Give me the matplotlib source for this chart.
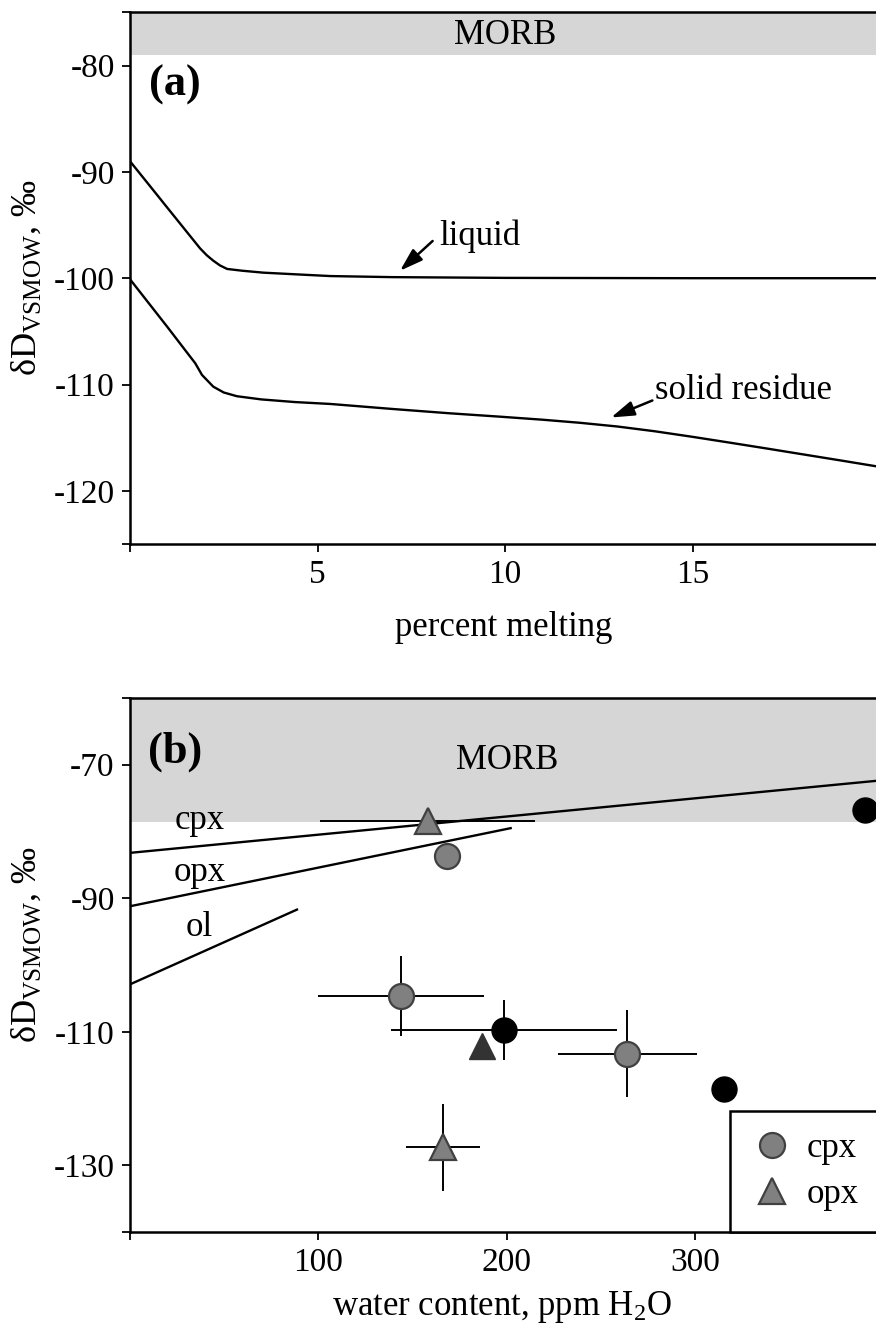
import matplotlib
matplotlib.use("Agg")
import matplotlib.pyplot as plt
from matplotlib.lines import Line2D

plt.rcParams['font.family'] = ['Liberation Serif', 'DejaVu Serif']
plt.rcParams['mathtext.fontset'] = 'custom'
plt.rcParams['mathtext.rm'] = 'Liberation Serif'
plt.rcParams['mathtext.it'] = 'Liberation Serif:italic'

# ---------------- Data: panel (a) ----------------
liquid_x = [0, 0.5, 1.0, 1.5, 1.87, 2.05, 2.22, 2.4, 2.59, 3.0, 3.56, 4.5, 5.35, 7, 10, 15, 20]
liquid_y = [-89.0, -91.19, -93.39, -95.58, -97.2, -97.85, -98.35, -98.8, -99.13, -99.3,
            -99.48, -99.65, -99.8, -99.9, -99.97, -100.0, -100.0]
solid_x = [0, 0.5, 1.0, 1.5, 1.74, 1.92, 2.22, 2.5, 2.85, 3.5, 4.4, 5.35, 7, 8.5, 9.89,
           11, 12, 13, 14, 15, 16, 17, 18, 19, 20]
solid_y = [-100.1, -102.35, -104.6, -106.9, -108.0, -109.1, -110.2, -110.75, -111.1,
           -111.4, -111.65, -111.83, -112.3, -112.7, -113.03, -113.31, -113.6, -113.95,
           -114.4, -114.92, -115.47, -116.03, -116.6, -117.17, -117.75]
morb_a = (-79, -75)

# ---------------- Data: panel (b) ----------------
cpx_x = [168, 143.8, 264]
cpx_y = [-83.6, -104.7, -113.3]
cpx_xerr = [0, 44, 37]
cpx_yerr = [0, 6, 6.5]

opx_x = [158, 166]
opx_y = [-78.5, -127.3]
opx_xerr = [57, 19.5]
opx_yerr = [0, 6.5]

blk_x = [390, 198.4, 315]
blk_y = [-76.8, -109.8, -118.6]
blk_xerr = [0, 60, 0]
blk_yerr = [0, 4.5, 0]

dtri_x = [186.7]
dtri_y = [-112.1]

# model lines (cpx, opx, ol)
line_cpx_x = [0, 400]
line_cpx_y = [-83.2, -72.3]
line_opx_x = [0, 202]
line_opx_y = [-91.2, -79.5]
line_ol_x = [0, 88.6]
line_ol_y = [-102.9, -91.7]
morb_b = (-78.6, -60)

FS = 24      # tick labels
LFS = 25     # labels / annotations
GRAY_BAND = '#d6d6d6'
MGRAY = '#808080'
EDGE = '#404040'

W, H = 876, 1329
fig = plt.figure(figsize=(W / 100, H / 100), dpi=100)

def style_axes(ax):
    for s in ax.spines.values():
        s.set_linewidth(1.8)
    ax.tick_params(direction='out', length=6, width=1.3, labelsize=FS,
                   top=False, right=False, pad=5)

# ---------------- Panel (a) ----------------
ax1 = fig.add_axes([130 / W, 1 - 544 / H, 750 / W, (544 - 12.4) / H])
ax1.set_xlim(0, 20)
ax1.set_ylim(-125, -75)
ax1.axhspan(morb_a[0], morb_a[1], color=GRAY_BAND, lw=0, zorder=0)
ax1.plot(liquid_x, liquid_y, color='black', lw=1.7)
ax1.plot(solid_x, solid_y, color='black', lw=1.7)
ax1.set_yticks([-125, -120, -110, -100, -90, -80, -75])
ax1.set_yticklabels(['', '-120', '-110', '-100', '-90', '-80', ''])
ax1.set_xticks([0, 5, 10, 15, 20])
ax1.set_xticklabels(['', '5', '10', '15', ''])
style_axes(ax1)
ax1.text(10, -77.2, 'MORB', ha='center', va='center', fontsize=LFS)
ax1.text(0.5, -81.8, '(a)', ha='left', va='center', fontsize=32, fontweight='bold')
arrow_kw = dict(arrowstyle='-|>,head_length=1.4,head_width=0.45', color='black',
                lw=1.8, shrinkA=0, shrinkB=0)
ax1.annotate('', xy=(7.2, -99.3), xytext=(8.07, -96.5), arrowprops=arrow_kw)
ax1.text(8.25, -96.1, 'liquid', ha='left', va='center', fontsize=LFS)
ax1.annotate('', xy=(12.83, -113.1), xytext=(13.93, -111.5), arrowprops=arrow_kw)
ax1.text(14.0, -110.6, 'solid residue', ha='left', va='center', fontsize=LFS)
ax1.set_xlabel('percent melting', fontsize=LFS)
ax1.xaxis.label.set_va('center')
ax1.xaxis.set_label_coords(0.498, -0.158)
ax1.set_ylabel('δD$_{\\rm VSMOW}$, ‰', fontsize=26)
ax1.yaxis.label.set_va('center')
ax1.yaxis.set_label_coords(-0.137, 0.5)

# ---------------- Panel (b) ----------------
ax2 = fig.add_axes([130 / W, 1 - 1232 / H, 750 / W, (1232 - 698) / H])
ax2.set_xlim(0, 398)
ax2.set_ylim(-140, -60)
ax2.axhspan(morb_b[0], morb_b[1], color=GRAY_BAND, lw=0, zorder=0)
ax2.plot(line_cpx_x, line_cpx_y, color='black', lw=1.7, zorder=2)
ax2.plot(line_opx_x, line_opx_y, color='black', lw=1.7, zorder=2)
ax2.plot(line_ol_x, line_ol_y, color='black', lw=1.7, zorder=2)
ax2.text(37, -78.4, 'cpx', ha='center', va='center', fontsize=LFS)
ax2.text(37, -86.2, 'opx', ha='center', va='center', fontsize=LFS)
ax2.text(37, -94.4, 'ol', ha='center', va='center', fontsize=LFS)
ax2.text(200, -69.4, 'MORB', ha='center', va='center', fontsize=LFS)
ax2.text(9.5, -68.0, '(b)', ha='left', va='center', fontsize=32, fontweight='bold')

eb_kw = dict(fmt='none', ecolor='black', elinewidth=1.4, capsize=0, zorder=3)
ax2.errorbar(cpx_x, cpx_y, xerr=cpx_xerr, yerr=cpx_yerr, **eb_kw)
ax2.errorbar(opx_x, opx_y, xerr=opx_xerr, yerr=opx_yerr, **eb_kw)
ax2.errorbar(blk_x, blk_y, xerr=blk_xerr, yerr=blk_yerr, **eb_kw)

ax2.plot(cpx_x, cpx_y, 'o', ms=18, mfc=MGRAY, mec=EDGE, mew=1.6, zorder=4)
ax2.plot(opx_x, opx_y, '^', ms=19, mfc=MGRAY, mec=EDGE, mew=1.6, zorder=4)
ax2.plot(blk_x, blk_y, 'o', ms=18, mfc='black', mec='black', mew=1.0, zorder=4)
ax2.plot(dtri_x, dtri_y, '^', ms=19, mfc='#333333', mec='#333333', mew=1.0, zorder=4)

ax2.set_yticks([-140, -130, -110, -90, -70, -60])
ax2.set_yticklabels(['', '-130', '-110', '-90', '-70', ''])
ax2.set_xticks([0, 100, 200, 300])
ax2.set_xticklabels(['', '100', '200', '300'])
style_axes(ax2)
ax2.set_xlabel('water content, ppm H$_2$O', fontsize=LFS)
ax2.xaxis.label.set_va('center')
ax2.xaxis.set_label_coords(0.496, -0.141)
ax2.set_ylabel('δD$_{\\rm VSMOW}$, ‰', fontsize=26)
ax2.yaxis.label.set_va('center')
ax2.yaxis.set_label_coords(-0.137, 0.537)

handles = [Line2D([], [], ls='none', marker='o', ms=18, mfc=MGRAY, mec=EDGE, mew=1.6),
           Line2D([], [], ls='none', marker='^', ms=19, mfc=MGRAY, mec=EDGE, mew=1.6)]
leg = ax2.legend(handles, ['cpx', 'opx'], loc='lower right', borderaxespad=0,
                 fontsize=LFS, frameon=True, fancybox=False, framealpha=1,
                 edgecolor='black', handlelength=1.2, handletextpad=0.42,
                 borderpad=0.6, labelspacing=0.38)
leg.get_frame().set_linewidth(1.8)
leg.set_zorder(5)

fig.savefig('out.png', dpi=100)
